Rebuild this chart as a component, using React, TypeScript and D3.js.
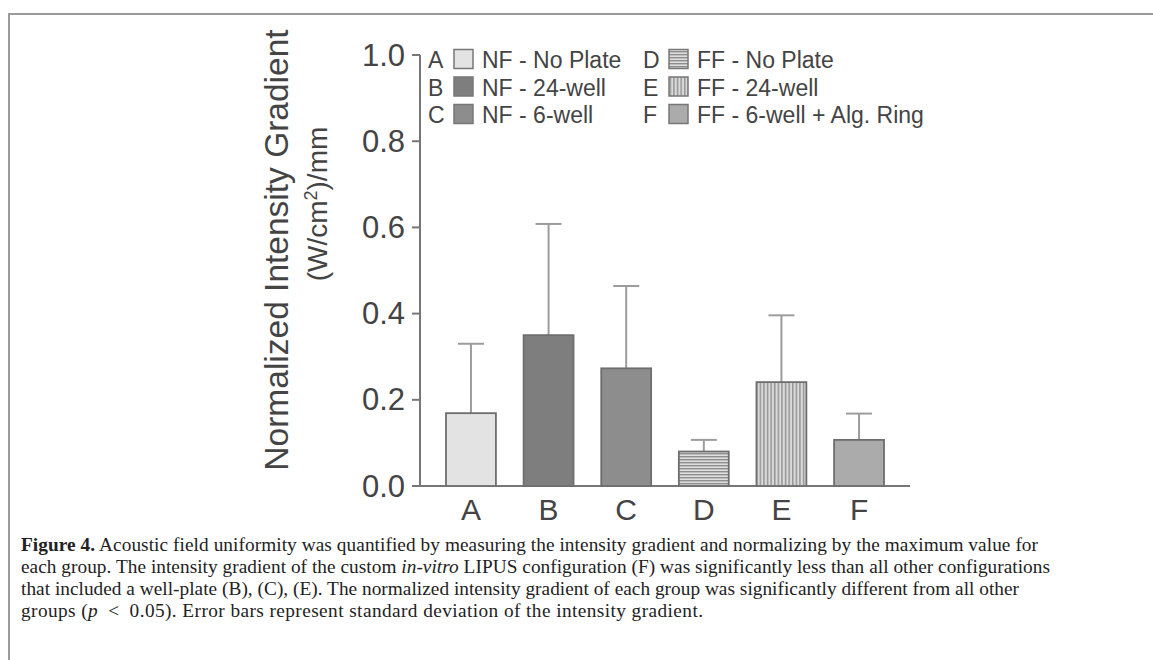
import React from 'react';
import * as d3 from 'd3';

const categories = ['A', 'B', 'C', 'D', 'E', 'F'];
const means = [0.169, 0.35, 0.273, 0.08, 0.241, 0.107];
const sds = [0.161, 0.258, 0.191, 0.027, 0.155, 0.061];
const legendLabels = [
  'NF - No Plate',
  'NF - 24-well',
  'NF - 6-well',
  'FF - No Plate',
  'FF - 24-well',
  'FF - 6-well + Alg. Ring',
];
const yTicks = [0, 0.2, 0.4, 0.6, 0.8, 1.0];
const fills = ['#e3e3e3', '#7e7e7e', '#8d8d8d', 'url(#hstripe)', 'url(#vstripe)', '#ababab'];

const W = 1153;
const H = 660;

export default function App() {
  const x = d3.scaleBand<string>().domain(categories).range([420, 910]).paddingInner(0.357).paddingOuter(0.335);
  const y = d3.scaleLinear().domain([0, 1]).range([486, 55]);
  const axisColor = '#777';
  const sans = '"Liberation Sans", Arial, Helvetica, sans-serif';
  const serif = '"Liberation Serif", "Times New Roman", serif';
  const bw = x.bandwidth();

  return (
    <svg width={W} height={H} style={{ position: 'absolute', left: 0, top: 0, background: '#fff' }}>
      <defs>
        <pattern id="hstripe" width={4} height={3} patternUnits="userSpaceOnUse">
          <rect width={4} height={3} fill="#dedede" />
          <rect width={4} height={1.4} fill="#8e8e8e" />
        </pattern>
        <pattern id="vstripe" width={3.6} height={4} patternUnits="userSpaceOnUse">
          <rect width={3.6} height={4} fill="#dadada" />
          <rect width={1.5} height={4} fill="#959595" />
        </pattern>
      </defs>
      {/* frame */}
      <line x1={9} y1={14} x2={W} y2={14} stroke="#9a9a9a" strokeWidth={2} />
      <line x1={9} y1={13} x2={9} y2={H} stroke="#9a9a9a" strokeWidth={2} />

      {/* y title */}
      <text transform="translate(288,250) rotate(-90)" textAnchor="middle" fontFamily={sans} fontSize={33.5} fill="#444">
        Normalized Intensity Gradient
      </text>
      <text transform="translate(327,204) rotate(-90)" textAnchor="middle" fontFamily={sans} fontSize={28} fill="#444">
        (W/cm<tspan fontSize={18} dy={-10}>2</tspan><tspan dy={10}>)/mm</tspan>
      </text>

      {/* y axis */}
      <line x1={420} y1={y(1)} x2={420} y2={y(0)} stroke={axisColor} strokeWidth={2} />
      {yTicks.map((t) => (
        <g key={t}>
          <line x1={412} x2={420} y1={y(t)} y2={y(t)} stroke={axisColor} strokeWidth={2} />
          <text x={405} y={y(t) + 10.5} textAnchor="end" fontFamily={sans} fontSize={31} fill="#444">
            {t.toFixed(1)}
          </text>
        </g>
      ))}
      {/* x axis */}
      <line x1={412} x2={910} y1={y(0)} y2={y(0)} stroke={axisColor} strokeWidth={2} />

      {/* error bars */}
      {categories.map((c, i) => {
        const cx = (x(c) as number) + bw / 2;
        return (
          <g key={'e' + c} stroke="#9c9c9c" strokeWidth={2}>
            <line x1={cx} x2={cx} y1={y(means[i])} y2={y(means[i] + sds[i])} />
            <line x1={cx - 13} x2={cx + 13} y1={y(means[i] + sds[i])} y2={y(means[i] + sds[i])} />
          </g>
        );
      })}
      {/* bars */}
      {categories.map((c, i) => (
        <rect
          key={c}
          x={x(c) as number}
          y={y(means[i])}
          width={bw}
          height={y(0) - y(means[i])}
          fill={fills[i]}
          stroke="#6e6e6e"
          strokeWidth={1.8}
        />
      ))}
      {/* x labels */}
      {categories.map((c) => (
        <text key={'l' + c} x={(x(c) as number) + bw / 2} y={520} textAnchor="middle" fontFamily={sans} fontSize={30} fill="#444">
          {c}
        </text>
      ))}

      {/* legend */}
      {categories.map((c, i) => {
        const col = Math.floor(i / 3);
        const row = i % 3;
        const bx = col === 0 ? 428 : 643;
        const by = 68 + row * 27.5;
        return (
          <g key={'lg' + c}>
            <text x={bx} y={by} fontFamily={sans} fontSize={23} fill="#444">
              {c}
            </text>
            <rect x={bx + 26} y={by - 18.5} width={19} height={19} fill={fills[i]} stroke="#777" strokeWidth={1.5} />
            <text x={bx + 54} y={by} fontFamily={sans} fontSize={23} fill="#444">
              {legendLabels[i]}
            </text>
          </g>
        );
      })}

      {/* caption */}
      <g fontFamily={serif} fontSize={19.3} fill="#222">
        <text x={21} y={551} textLength={1017} lengthAdjust="spacing">
          <tspan fontWeight="bold">Figure 4.</tspan> Acoustic field uniformity was quantified by measuring the intensity gradient and normalizing by the maximum value for
        </text>
        <text x={21} y={573} textLength={1029} lengthAdjust="spacing">
          each group. The intensity gradient of the custom <tspan fontStyle="italic">in-vitro</tspan> LIPUS configuration (F) was significantly less than all other configurations
        </text>
        <text x={21} y={595} textLength={998} lengthAdjust="spacing">
          that included a well-plate (B), (C), (E). The normalized intensity gradient of each group was significantly different from all other
        </text>
        <text x={21} y={617} textLength={682} lengthAdjust="spacing">
          groups (<tspan fontStyle="italic">p</tspan>{'\u2002<\u20020.05'}). Error bars represent standard deviation of the intensity gradient.
        </text>
      </g>
    </svg>
  );
}
